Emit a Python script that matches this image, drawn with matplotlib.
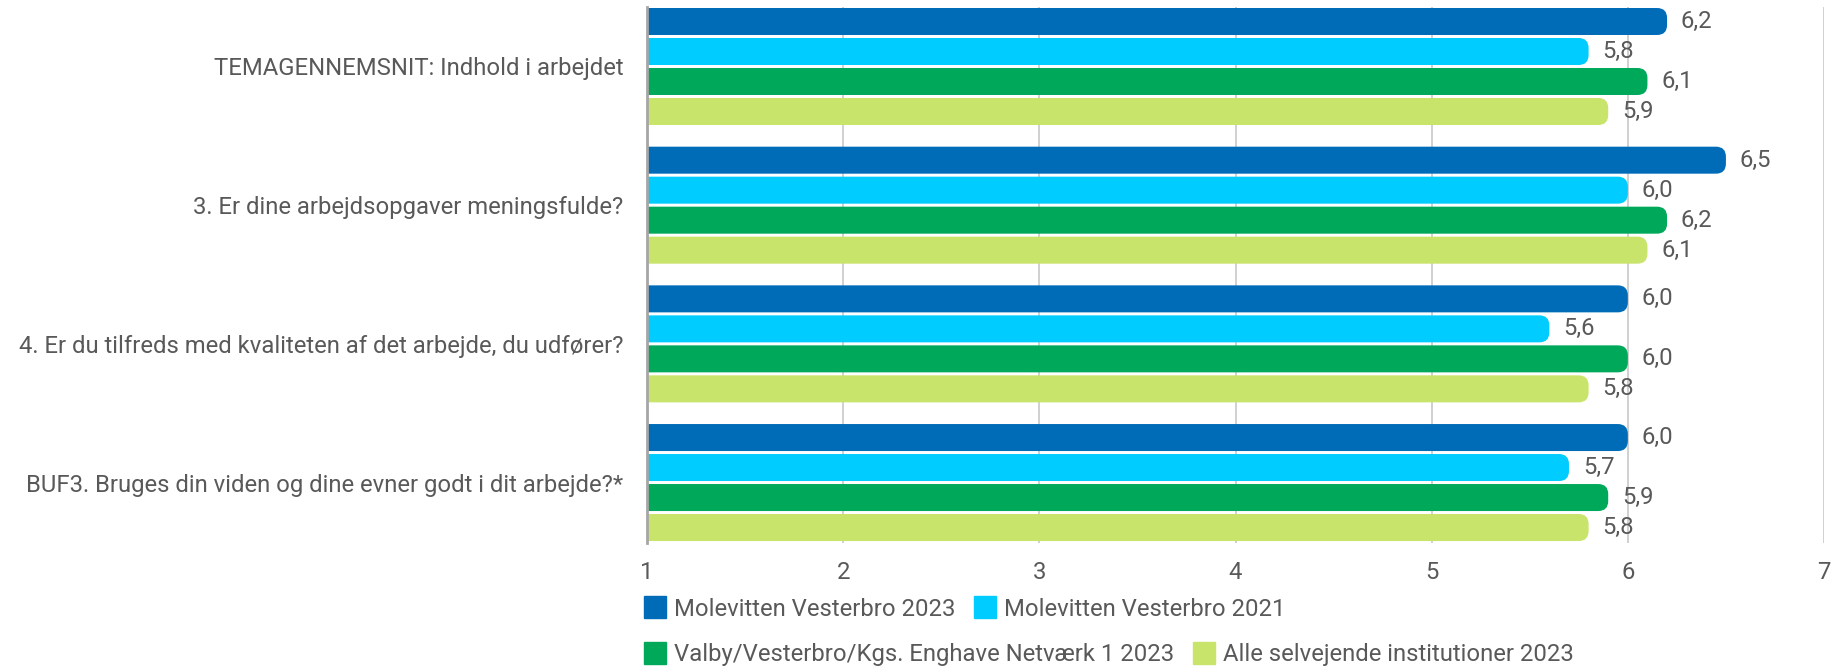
import matplotlib
matplotlib.use("Agg")
import matplotlib.pyplot as plt
from matplotlib.patches import FancyBboxPatch
from matplotlib.lines import Line2D
import numpy as np

plt.rcParams['font.family'] = ['Roboto', 'DejaVu Sans']

questions = [
    "TEMAGENNEMSNIT: Indhold i arbejdet",
    "3. Er dine arbejdsopgaver meningsfulde?",
    "4. Er du tilfreds med kvaliteten af det arbejde, du udfører?",
    "BUF3. Bruges din viden og dine evner godt i dit arbejde?*",
]
series_names = [
    "Molevitten Vesterbro 2023",
    "Molevitten Vesterbro 2021",
    "Valby/Vesterbro/Kgs. Enghave Netværk 1 2023",
    "Alle selvejende institutioner 2023",
]
molevitten_2023 = [6.2, 6.5, 6.0, 6.0]
molevitten_2021 = [5.8, 6.0, 5.6, 5.7]
netvaerk_2023 = [6.1, 6.2, 6.0, 5.9]
alle_2023 = [5.9, 6.1, 5.8, 5.8]
x_ticks = [1, 2, 3, 4, 5, 6, 7]

colors = ["#006CB7", "#00CCFF", "#00A85A", "#C8E46A"]
text_color = "#595959"
fs = 17.2

W, H = 1839, 669
fig = plt.figure(figsize=(W / 100, H / 100), dpi=100)
ax = fig.add_axes([647 / W, 1 - 543 / H, (1824 - 647) / W, (543 - 7) / H])

slot = 0.2163
bar_h = 0.1947
series = [molevitten_2023, molevitten_2021, netvaerk_2023, alle_2023]
y0 = np.arange(len(questions))

ax.set_xlim(1, 7)
ax.set_ylim(3.436, -0.429)

# rounding radius in pixels -> data units
px_x = (7 - 1) / (1824 - 647)
px_y = (3.436 + 0.429) / (543 - 7)
r_px = 10
aspect = px_y / px_x

for k, vals in enumerate(series):
    ys = y0 + (k - 1.5) * slot
    bars = ax.barh(ys, np.array(vals) - 1, left=1, height=bar_h, color=colors[k])
    for b, v in zip(bars, vals):
        b.set_visible(False)
        x, y = b.get_x(), b.get_y()
        w, h = b.get_width(), b.get_height()
        ext = r_px * px_x * 2
        p = FancyBboxPatch((x - ext, y), w + ext, h,
                           boxstyle=f"round,pad=0,rounding_size={r_px * px_x}",
                           mutation_aspect=aspect, facecolor=colors[k],
                           edgecolor="none", zorder=3)
        ax.add_patch(p)
        ax.annotate(f"{v:.1f}".replace(".", ","), (v, y + h / 2),
                    xytext=(10, 0), textcoords="offset points",
                    va="center", ha="left", fontsize=fs, color=text_color)

ax.set_xticks(x_ticks)
ax.set_xticklabels([str(t) for t in x_ticks])
ax.set_yticks(y0)
ax.set_yticklabels(questions)
ax.tick_params(axis="both", length=0, labelsize=fs, labelcolor=text_color)
ax.tick_params(axis="x", pad=13)
ax.tick_params(axis="y", pad=17)
ax.grid(axis="x", color="#C8C8C8", linewidth=1.2, zorder=0)
ax.set_axisbelow(True)
for s in ["top", "right", "bottom"]:
    ax.spines[s].set_visible(False)
ax.spines["left"].set_color("#A6A6A6")
ax.spines["left"].set_linewidth(2)
ax.spines["left"].set_zorder(4)

def handles(cols):
    return [Line2D([], [], marker="s", linestyle="none", markersize=16.5,
                   markerfacecolor=c, markeredgecolor=c) for c in cols]

leg_kw = dict(frameon=False, fontsize=fs, labelcolor=text_color, ncol=2,
              handlelength=1.0, handletextpad=0.3, columnspacing=0.75,
              borderaxespad=0, borderpad=0)
leg1 = fig.legend(handles(colors[:2]), series_names[:2], loc="center left",
                  bbox_to_anchor=(643 / W, 1 - 609 / H), **leg_kw)
leg2 = fig.legend(handles(colors[2:]), series_names[2:], loc="center left",
                  bbox_to_anchor=(643 / W, 1 - 655 / H), **leg_kw)

fig.savefig("out.png", dpi=100)
